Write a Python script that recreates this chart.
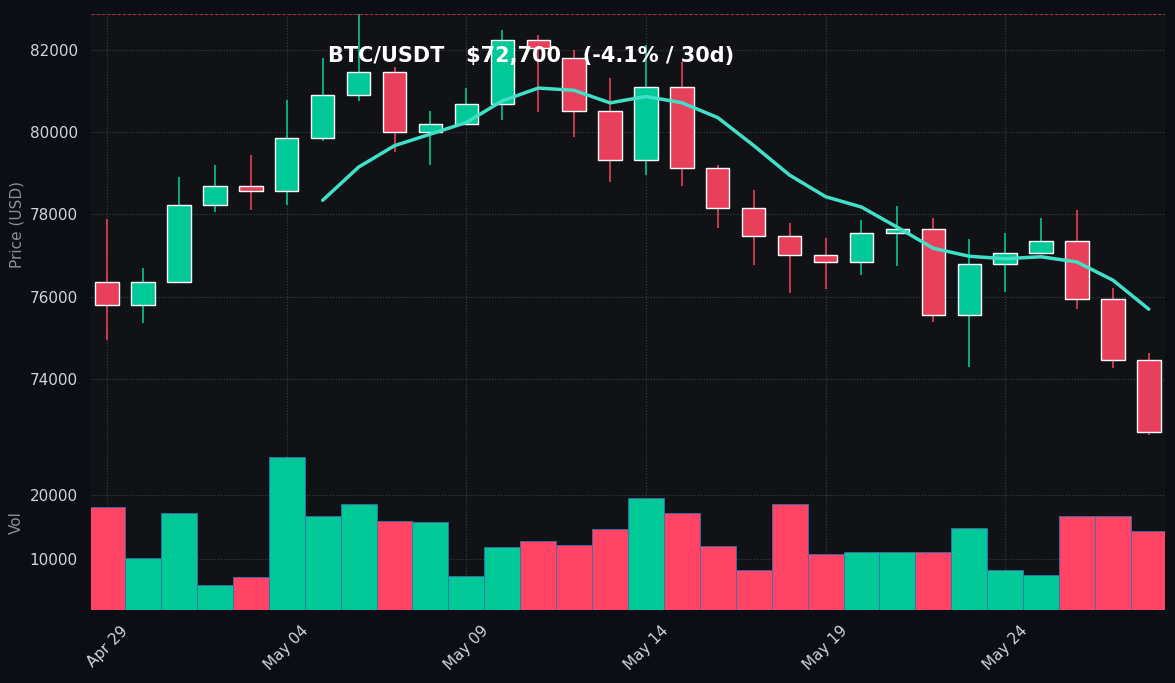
import numpy as np, pandas as pd, matplotlib
matplotlib.use("Agg")
import matplotlib.pyplot as plt, matplotlib.dates as mdates, seaborn as sns

dates = pd.date_range("2024-04-29", periods=30, freq="D")
opens  = [76350,75800,76350,78230,78700,78570,79860,80900,81460,80000,80200,80690,82240,81800,80510,79320,81100,79130,78150,77480,77010,76840,77550,77650,75550,76790,77060,77350,75940,74460]
closes = [75800,76350,78230,78700,78570,79860,80900,81460,80000,80200,80690,82240,82050,80510,79320,81100,79130,78150,77480,77010,76840,77550,77650,75550,76790,77060,77350,75940,74460,72700]
highs  = [77900,76700,78900,79200,79450,80780,81800,82880,81600,80520,81070,82490,82370,82000,81320,82120,81700,79200,78590,77800,77430,77860,78200,77910,77400,77550,77910,78100,76210,74630]
lows   = [74950,75350,76350,78050,78100,78230,79800,80760,79520,79200,80200,80300,80490,79880,78790,78960,78690,77670,76770,76090,76180,76520,76750,75380,74290,76110,77060,75700,74260,72630]
volume = [18100,10160,17200,5940,7190,25940,16720,18600,15940,15780,7340,11880,12810,12190,14690,19530,17190,12030,8280,18590,10780,11090,11090,11090,14840,8280,7500,16720,16720,14380]

df = pd.DataFrame(dict(date=dates, open=opens, close=closes, high=highs, low=lows, vol=volume))
df["ma"] = df["close"].rolling(7).mean()
GREEN, RED, VRED = "#00c896", "#e8405a", "#ff4466"
BG, AX = "#0b0e14", "#101216"

sns.set_theme(style="darkgrid")
fig = plt.figure(figsize=(11.75, 6.83), dpi=100, facecolor=BG)
ax = fig.add_axes([91/1175, 1-435/683, (1165-91)/1175, (435-14)/683])
axv = fig.add_axes([91/1175, 1-610/683, (1165-91)/1175, (610-435)/683], sharex=ax)
for a in (ax, axv):
    a.set_facecolor(AX)
    a.grid(True, color="#3a3f4a", linestyle=":", linewidth=0.8)
    for s in a.spines.values():
        s.set_visible(False)
    a.tick_params(colors="#d0d4dc", labelsize=11)

x = mdates.date2num(df["date"])
up = df["close"] >= df["open"]
cols = np.where(up, GREEN, RED)
ax.vlines(x, df["low"], df["high"], colors=cols, linewidth=1.2, zorder=2)
ax.bar(x, (df["close"]-df["open"]).abs().clip(lower=60), bottom=np.minimum(df["open"], df["close"]),
       width=0.65, color=cols, zorder=3)
sns.lineplot(data=df, x="date", y="ma", ax=ax, color="#40e0c8", linewidth=2.5, zorder=4)
ax.axhline(max(highs), color=RED, linestyle="--", linewidth=0.7, alpha=0.7)
ax.axhline(min(lows), color=GREEN, linestyle="--", linewidth=0.7, alpha=0.7)
ax.set_ylim(min(lows), max(highs))
ax.set_xlim(x[0]-0.45, x[-1]+0.45)
ax.set_ylabel("Price (USD)", color="#8a8f9a", fontsize=11)
ax.set_xlabel("")
ax.tick_params(axis="x", labelbottom=False)
ax.set_yticks([74000, 76000, 78000, 80000, 82000])
ax.text(0.41, 0.9, "BTC/USDT   $72,700   (-4.1% / 30d)", transform=ax.transAxes,
        ha="center", va="center", color="white", fontsize=15, fontweight="bold")

axv.bar(x, df["vol"], width=1.0, color=np.where(up, GREEN, VRED), edgecolor="#3b6fb0", linewidth=0.6)
axv.set_ylim(2030, 29370)
axv.set_yticks([10000, 20000])
axv.set_ylabel("Vol", color="#8a8f9a", fontsize=11)
axv.xaxis.set_major_locator(mdates.DayLocator(bymonthday=[4, 9, 14, 19, 24, 29]))
axv.xaxis.set_major_formatter(mdates.DateFormatter("%b %d"))
plt.setp(axv.get_xticklabels(), rotation=45)
fig.savefig("out.png", dpi=100, facecolor=BG)
